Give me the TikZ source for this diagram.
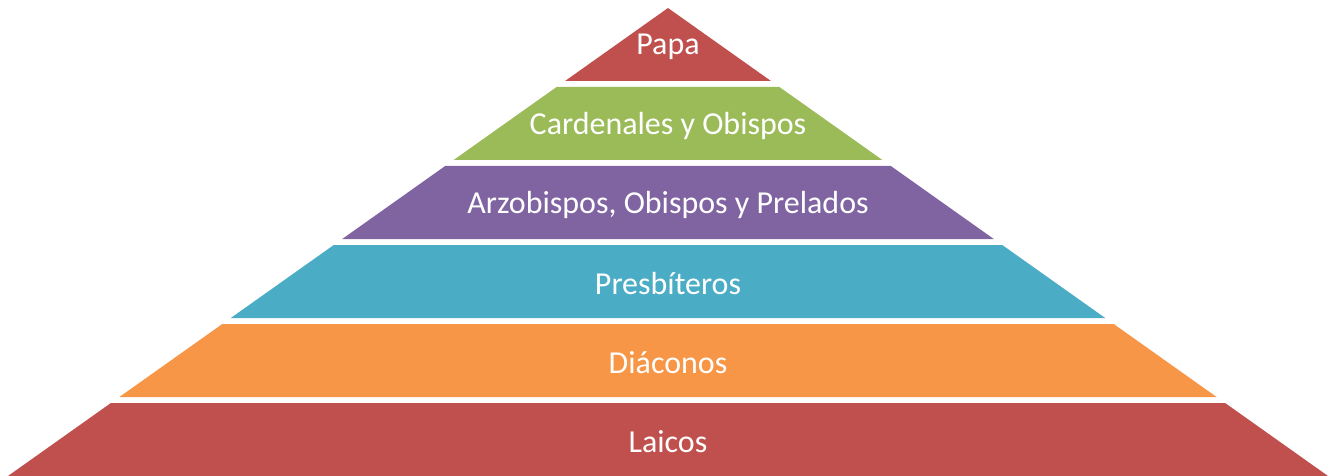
\documentclass[tikz,border=0pt]{standalone}
\usepackage{fontspec}
\setmainfont{Carlito}
\usepackage{tikz}
\definecolor{papared}{HTML}{C0504D}
\definecolor{cardgreen}{HTML}{9BBB59}
\definecolor{arzpurple}{HTML}{8064A2}
\definecolor{presteal}{HTML}{4BACC6}
\definecolor{diaorange}{HTML}{F79646}
\tikzset{
    band label/.style={text=white, font=\fontsize{18.2}{21}\selectfont, inner sep=0pt}
}

\begin{document}
\begin{tikzpicture}[x=0.02cm, y=-0.02cm]
    \useasboundingbox (0, 0) rectangle (1337, 476);
    % Pyramid bands, top to bottom
    \foreach \i/\col/\txt/\nm in {0/papared/Papa/papa,
                                  1/cardgreen/Cardenales y Obispos/cardenales,
                                  2/arzpurple/{Arzobispos, Obispos y Prelados}/arzobispos,
                                  3/presteal/Presbíteros/presbiteros,
                                  4/diaorange/Diáconos/diaconos,
                                  5/papared/Laicos/laicos} {
        \pgfmathsetmacro{\ytop}{8 + \i*79}
        \pgfmathsetmacro{\ybot}{\ytop + 73}
        \pgfmathsetmacro{\wtop}{1.4103*(\ytop - 8)}
        \pgfmathsetmacro{\wbot}{1.4103*(\ybot - 8)}
        \fill[\col] (668-\wtop, \ytop) -- (668+\wtop, \ytop)
            -- (668+\wbot, \ybot) -- (668-\wbot, \ybot) -- cycle;
        \node[band label] (\nm) at (668, \ytop+39) {\txt};
    }
\end{tikzpicture}
\end{document}
